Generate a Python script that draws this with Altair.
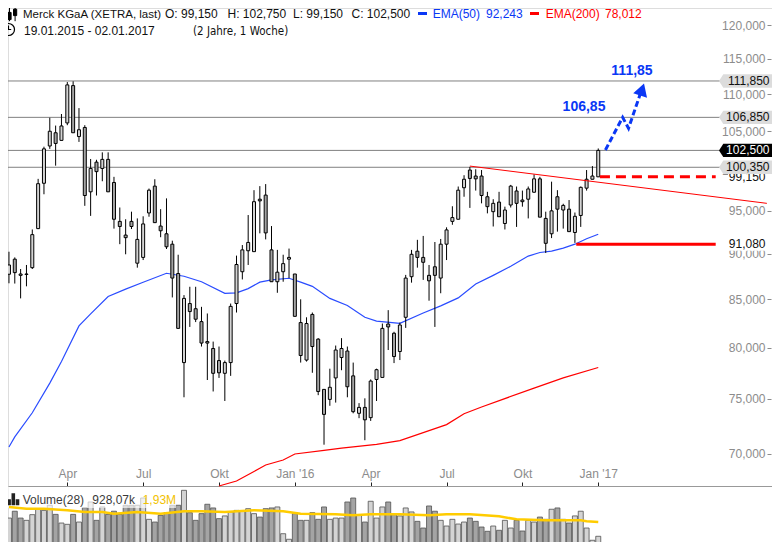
import json
import altair as alt
import pandas as pd

# ---------------- data (weekly candles, 19.01.2015 .. 26.12.2016) ----------------
opens = [87.72, 89.4, 87.75, 87.7, 88.45, 92.9, 98.35, 103.07, 104.8, 103.8,
         106.1, 111.2, 104.3, 105.5, 97.3, 101.0, 100.2, 101.35, 98.45, 93.75,
         92.15, 93.75, 88.95, 89.6, 94.75, 98.0, 93.2, 92.3, 91.1, 87.8,
         78.5, 84.55, 84.0, 82.65, 80.6, 79.9, 78.7, 77.45, 78.5, 84.55,
         88.0, 90.35, 90.25, 96.4, 96.9, 90.45, 86.9, 88.0, 89.4, 87.75,
         82.55, 78.75, 83.4, 80.85, 75.9, 74.95, 77.0, 79.0, 79.65, 77.2,
         73.65, 74.2, 73.25, 76.85, 77.05, 82.4, 81.45, 79.6, 83.1, 87.45,
         90.3, 89.6, 87.6, 88.55, 87.3, 91.1, 93.75, 94.0, 97.8, 100.0,
         99.25, 99.25, 96.7, 94.9, 96.05, 93.5, 95.7, 97.4, 96.3, 96.4,
         97.25, 98.9, 94.1, 92.3, 96.7, 95.1, 95.2, 92.45, 94.45, 97.75,
         98.85, 99.15]
highs = [90.24, 89.6, 88.3, 88.75, 92.8, 98.9, 102.98, 106.8, 105.75, 107.3,
         111.7, 111.8, 108.1, 105.8, 101.4, 101.3, 102.25, 102.25, 99.15, 95.4,
         94.0, 94.9, 94.1, 94.35, 97.7, 98.85, 95.2, 96.5, 91.5, 89.9,
         85.45, 86.35, 86.35, 84.2, 83.5, 80.6, 80.1, 78.7, 84.55, 89.8,
         91.0, 94.5, 97.5, 98.0, 98.25, 93.2, 90.45, 89.9, 90.6, 87.75,
         85.0, 83.1, 83.6, 80.95, 75.9, 77.9, 80.2, 80.95, 80.1, 78.5,
         74.6, 75.05, 76.85, 77.9, 82.45, 83.85, 81.6, 82.55, 87.65, 90.45,
         91.6, 92.05, 88.75, 91.35, 91.7, 93.05, 95.55, 97.95, 99.35, 100.4,
         100.1, 100.0, 97.3, 96.4, 97.3, 95.5, 98.15, 97.95, 97.45, 97.95,
         99.45, 99.15, 94.9, 98.55, 97.5, 95.85, 96.3, 94.8, 97.95, 100.0,
         100.5, 102.75]
lows = [86.73, 86.7, 85.1, 86.4, 88.3, 92.85, 97.0, 102.7, 100.55, 103.8,
        105.8, 104.8, 103.6, 95.6, 94.4, 96.85, 98.6, 97.3, 92.9, 91.1,
        89.95, 92.85, 88.45, 89.3, 94.3, 93.6, 91.9, 90.55, 85.2, 81.95,
        75.15, 82.1, 82.6, 80.1, 76.8, 75.7, 77.0, 74.8, 77.2, 83.6,
        87.15, 88.75, 90.25, 92.35, 91.65, 86.9, 85.7, 86.9, 87.3, 83.2,
        78.5, 78.6, 77.5, 75.35, 70.8, 74.35, 74.65, 77.75, 75.15, 73.65,
        73.2, 71.2, 72.95, 74.8, 77.05, 79.75, 78.45, 78.75, 82.0, 86.8,
        88.45, 87.1, 84.85, 82.1, 85.65, 89.3, 93.35, 94.0, 96.7, 95.35,
        97.45, 95.9, 94.7, 93.15, 94.3, 92.8, 95.4, 93.1, 95.5, 94.1,
        97.2, 94.25, 90.1, 91.8, 92.55, 92.9, 92.55, 91.25, 93.1, 97.45,
        98.85, 99.15]
closes = [88.75, 87.9, 87.6, 87.75, 92.2, 98.3, 102.7, 105.0, 103.4, 105.7,
          111.3, 104.8, 105.2, 96.85, 100.2, 99.8, 101.35, 97.3, 94.0, 93.15,
          91.85, 93.15, 91.65, 93.45, 97.5, 93.6, 92.65, 90.8, 87.3, 81.95,
          85.1, 83.7, 82.9, 80.45, 80.45, 77.45, 77.5, 78.5, 84.25, 88.8,
          90.45, 91.3, 96.1, 96.2, 92.4, 86.9, 87.95, 88.9, 89.6, 83.2,
          79.2, 82.45, 80.1, 75.7, 73.55, 76.1, 79.75, 79.9, 76.15, 73.8,
          74.2, 73.05, 76.7, 77.8, 81.95, 82.1, 79.1, 82.3, 87.3, 89.95,
          89.6, 89.05, 87.0, 87.6, 91.1, 92.75, 94.2, 97.5, 98.85, 98.95,
          98.9, 96.85, 95.5, 95.9, 94.3, 95.1, 98.0, 95.9, 96.1, 97.65,
          98.9, 94.25, 91.2, 95.0, 95.2, 95.65, 92.55, 94.35, 97.85, 98.85,
          99.25, 102.5]
volumes = [2.21, 2.69, 2.21, 2.05, 2.45, 2.87, 2.75, 3.11, 2.47, 1.86,
           1.77, 2.47, 1.93, 2.94, 3.34, 2.05, 2.99, 2.47, 2.69, 2.47,
           3.11, 3.11, 3.11, 3.62, 2.12, 1.93, 2.40, 2.59, 3.11, 3.11,
           4.16, 2.59, 2.05, 2.52, 3.18, 2.92, 2.17, 2.36, 2.64, 2.75,
           2.71, 2.87, 2.52, 2.28, 2.87, 2.92, 2.99, 1.11, 0.72, 2.52,
           2.05, 2.05, 2.59, 2.12, 2.99, 2.12, 2.21, 2.21, 3.34, 3.62,
           2.45, 1.93, 3.39, 2.21, 2.99, 3.34, 2.45, 2.36, 2.92, 2.64,
           1.98, 1.51, 3.06, 2.69, 2.05, 1.65, 2.12, 1.79, 1.93, 2.21,
           1.98, 1.58, 1.28, 1.65, 1.35, 2.05, 1.51, 2.05, 1.30, 2.05,
           1.93, 2.28, 2.12, 2.83, 2.92, 2.12, 1.86, 2.36, 2.69, 1.51,
           0.65, 0.928]

ema50_idx = [0, 1, 4, 7, 9, 12, 14, 17, 20, 23, 27, 30, 33, 37, 39, 41, 43, 45, 48, 50,
             52, 55, 58, 61, 63, 67, 71, 74, 77, 80, 83, 86, 89, 91, 93, 95, 97, 99, 101]
ema50_val = [70.6, 71.5, 73.7, 76.5, 78.6, 82.2, 83.45, 85.3, 86.1, 86.85, 87.83, 87.5, 86.9,
             85.64, 85.7, 86.15, 86.85, 87.1, 87.28, 86.85, 86.4, 85.1, 84.35, 83.1, 82.7,
             82.47, 83.55, 84.3, 85.15, 86.65, 87.6, 88.6, 89.75, 90.15, 90.3, 90.65, 91.1,
             91.72, 92.243]
ema200_idx = [36, 39, 42, 44, 47, 49, 54, 57, 61, 63, 67, 71, 75, 78, 81, 90, 95, 101]
ema200_val = [67.22, 67.64, 68.46, 69.02, 69.45, 69.98, 70.29, 70.49, 70.71, 70.83, 71.17,
              71.88, 72.61, 73.61, 74.24, 76.02, 77.0, 78.012]
volma_idx = [0, 3, 6, 10, 13, 16, 18, 22, 26, 30, 33, 37, 42, 47, 50, 56, 59, 62, 67, 72,
             75, 79, 84, 87, 92, 96, 98, 99, 101]
volma_val = [2.99, 2.87, 2.87, 2.76, 2.64, 2.64, 2.52, 2.64, 2.52, 2.69, 2.69, 2.64, 2.76,
             2.69, 2.52, 2.47, 2.40, 2.47, 2.47, 2.40, 2.47, 2.47, 2.33, 2.12, 2.05, 2.05,
             2.05, 1.98, 1.93]

tick_idx = [10, 23, 36, 49, 62, 75, 88, 101]
tick_labels = ["Apr", "Jul", "Okt", "Jan '16", "Apr", "Jul", "Okt", "Jan '17"]
price_ticks = [70, 75, 80, 85, 90, 95, 100, 105, 110, 115, 120]

level_values = [111.85, 106.85, 102.5, 100.35]
boxed_values = [111.85, 106.85, 100.35]
boxed_texts = ["111,850", "106,850", "100,350"]
current_value = [102.5]
current_text = ["102,500"]
plain_values = [99.15, 91.08]
plain_texts = ["99,150", "91,080"]

trend_idx = [79.0, 129.9]
trend_val = [100.5, 95.9]
stop_idx = [101.29, 121.13]
stop_val = [99.15, 99.15]
support_idx = [97.23, 121.13]
support_val = [91.08, 91.08]
proj_idx = [102.23, 105.18, 106.19, 108.27]
proj_val = [102.56, 106.85, 105.39, 110.2]
arrow_idx = [108.51]
arrow_val = [110.66]

# ---------------- frames ----------------
candles = pd.DataFrame({"i": list(range(len(opens))), "open": opens, "high": highs,
                        "low": lows, "close": closes, "vol": volumes})
candles["dir"] = ["up" if c >= o else "down" for o, c in zip(opens, closes)]

FONT = "Liberation Sans, Arial, sans-serif"
NARROW = "Liberation Sans Narrow, DejaVu Sans Condensed, Liberation Sans, sans-serif"
BLUE = "#0a37f5"
EMA_BLUE = "#2a4cff"
RED = "#ff0000"
INK = "#111111"
GRAY = "#8c8c8c"

# the page has an 8px margin: the drawing is laid out in page pixels shifted by 8
OFF = 8
W, H = 764, 534


def px(v):
    return v - OFF


xs = alt.Scale(domain=[0.6935, 129.922], nice=False, zero=False)
ys = alt.Scale(type="log", domain=[62.648, 122.597], nice=False)
vs = alt.Scale(domain=[0.527, 38.07], nice=False, zero=False)

label_expr = " : ".join(f"datum.value == {v} ? {json.dumps(t)}" for v, t in zip(tick_idx, tick_labels)) + " : ''"

x_axis = alt.Axis(orient="top", offset=-px(486), values=tick_idx, labelExpr=label_expr,
                  tickSize=4, tickColor="#222222", domainColor="#999999", labelColor=GRAY,
                  labelFont=FONT, labelFontSize=12, labelPadding=1.5, grid=False, title=None,
                  labelFlush=False, labelOverlap=False)
y_axis = alt.Axis(orient="left", offset=-px(771), values=price_ticks,
                  labelExpr="replace(format(datum.value, '.3f'), '.', ',')",
                  tickSize=4, tickColor=GRAY, labelColor=GRAY, labelFont=FONT,
                  labelFontSize=12, labelPadding=2, domain=False, grid=False, title=None,
                  labelOverlap=False, labelFlush=False)


def X(field):
    return alt.X(field, type="quantitative", scale=xs, axis=x_axis)


def Y(field):
    return alt.Y(field, type="quantitative", scale=ys, axis=y_axis)


def ptext(txt, x, y, color=INK, size=12, weight="normal", align="left", baseline="alphabetic", font=FONT):
    return alt.Chart(pd.DataFrame({"t": [txt]})).mark_text(
        font=font, fontSize=size, fontWeight=weight, color=color, align=align, baseline=baseline
    ).encode(x=alt.value(px(x)), y=alt.value(px(y)), text="t:N")


def prule(x1, x2, y, color, width):
    return alt.Chart(pd.DataFrame({"a": [0]})).mark_rule(color=color, strokeWidth=width).encode(
        x=alt.value(px(x1)), x2=alt.value(px(x2)), y=alt.value(px(y)))


def xy_frame(idx, val):
    return pd.DataFrame({"i": idx, "p": val})


# ---------------- price layers ----------------
levels = alt.Chart(pd.DataFrame({"p": level_values})).mark_rule(color="#808080", strokeWidth=1).encode(
    y=Y("p"), x=alt.value(px(0)), x2=alt.value(px(720)))

ema200 = alt.Chart(xy_frame(ema200_idx, ema200_val)).mark_line(color=RED, strokeWidth=1.2).encode(
    x=X("i"), y=Y("p"))
ema50 = alt.Chart(xy_frame(ema50_idx, ema50_val)).mark_line(color=EMA_BLUE, strokeWidth=1.2).encode(
    x=X("i"), y=Y("p"))

wicks = alt.Chart(candles).mark_rule(color="black", strokeWidth=1).encode(
    x=X("i"), y=Y("low"), y2="high")
bodies = alt.Chart(candles).mark_bar(size=3, stroke="black", strokeWidth=1).encode(
    x=X("i"), y=Y("open"), y2="close",
    fill=alt.Fill("dir:N", scale=alt.Scale(domain=["up", "down"], range=["white", "black"]), legend=None))

trend = alt.Chart(xy_frame(trend_idx, trend_val)).mark_line(color=RED, strokeWidth=1).encode(
    x=X("i"), y=Y("p"))
stop = alt.Chart(xy_frame(stop_idx, stop_val)).mark_line(color=RED, strokeWidth=3, strokeDash=[10, 6]).encode(
    x=X("i"), y=Y("p"))
support = alt.Chart(xy_frame(support_idx, support_val)).mark_line(color=RED, strokeWidth=3).encode(
    x=X("i"), y=Y("p"))

proj = alt.Chart(xy_frame(proj_idx, proj_val)).mark_line(color=BLUE, strokeWidth=3, strokeDash=[6, 3]).encode(
    x=X("i"), y=Y("p"))
arrow = alt.Chart(xy_frame(arrow_idx, arrow_val)).mark_point(
    shape="triangle-up", angle=18, size=210, filled=True, color=BLUE, opacity=1).encode(x=X("i"), y=Y("p"))

BOX = "M-1,0L-0.838,-0.253L1,-0.253L1,0.253L-0.838,0.253Z"
WBOX = "M-1,-0.325L1,-0.325L1,0.325L-1,0.325Z"

plain_df = pd.DataFrame({"p": plain_values, "t": plain_texts})
plain_bg = alt.Chart(plain_df).mark_point(shape=WBOX, size=1600, filled=True, color="white", opacity=1).encode(
    x=alt.value(px(748)), y=Y("p"))
plain_tx = alt.Chart(plain_df).mark_text(font=FONT, fontSize=12, color=INK, align="right", baseline="middle").encode(
    x=alt.value(px(765.5)), y=Y("p"), text="t:N")

boxed_df = pd.DataFrame({"p": boxed_values, "t": boxed_texts})
boxed_bg = alt.Chart(boxed_df).mark_point(shape=BOX, size=2809, filled=True, color="#dcdcdc", opacity=1).encode(
    x=alt.value(px(745.5)), y=Y("p"))
boxed_tx = alt.Chart(boxed_df).mark_text(font=FONT, fontSize=12, color=INK, align="right", baseline="middle").encode(
    x=alt.value(px(769.5)), y=Y("p"), text="t:N")

cur_df = pd.DataFrame({"p": current_value, "t": current_text})
cur_bg = alt.Chart(cur_df).mark_point(shape=BOX, size=2809, filled=True, color="black", opacity=1).encode(
    x=alt.value(px(745.5)), y=Y("p"))
cur_tx = alt.Chart(cur_df).mark_text(font=FONT, fontSize=12, color="white", align="right", baseline="middle").encode(
    x=alt.value(px(769.5)), y=Y("p"), text="t:N")

# header
ICON = ("M-0.7,-0.9V0.9M0,-0.9V0.9M0.7,-0.9V0.9"
        "M-0.9,-0.4H-0.5V0.5H-0.9ZM-0.2,-0.2H0.2V0.7H-0.2ZM0.5,-0.6H0.9V0.2H0.5Z")
icon = alt.Chart(pd.DataFrame({"a": [0]})).mark_point(
    shape=ICON, size=256, filled=True, fill="black", stroke="black", strokeWidth=1, opacity=1).encode(
    x=alt.value(px(9.5)), y=alt.value(px(14)))
clock = alt.Chart(pd.DataFrame({"a": [0]})).mark_point(
    shape="circle", size=144, filled=False, color="black", strokeWidth=1.2, opacity=1).encode(
    x=alt.value(px(8.5)), y=alt.value(px(29.5)))
hands = alt.Chart(pd.DataFrame({"a": [0]})).mark_point(
    shape="M0,-0.65V0H0.45", size=144, filled=False, color="black", strokeWidth=1.2, opacity=1).encode(
    x=alt.value(px(8.5)), y=alt.value(px(29.5)))

header = [
    ptext("Merck KGaA (XETRA, last)", 23, 18, size=11.5),
    ptext("O: 99,150", 165, 18),
    ptext("H: 102,750", 227.5, 18),
    ptext("L: 99,150", 293, 18),
    ptext("C: 102,500", 351.5, 18),
    prule(418, 427, 13.5, BLUE, 3),
    ptext("EMA(50)", 432.7, 18, color=BLUE),
    ptext("92,243", 486, 18, color=BLUE),
    prule(530, 539, 13.5, RED, 3),
    ptext("EMA(200)", 545.7, 18, color=RED),
    ptext("78,012", 605, 18, color=RED),
    ptext("19.01.2015 - 02.01.2017", 24, 34.5),
    ptext("(2 Jahre, 1 Woche)", 193, 34.5, size=11.5, font=NARROW),
]

annot = [
    ptext("106,85", 584, 107, color=BLUE, size=14, weight="bold", align="center", baseline="middle"),
    ptext("111,85", 632, 71, color=BLUE, size=14, weight="bold", align="center", baseline="middle"),
]

price = alt.layer(
    levels, ema200, ema50, wicks, bodies, trend, stop, support, proj, arrow, *annot,
    plain_bg, plain_tx, boxed_bg, boxed_tx, cur_bg, cur_tx, icon, clock, hands, *header
)

# ---------------- volume layers ----------------
vol_bars = alt.Chart(candles).mark_bar(size=5, stroke="#505050", strokeWidth=0.8).encode(
    x=X("i"), y=alt.Y("vol:Q", scale=vs, axis=None), y2=alt.datum(0),
    fill=alt.Fill("dir:N", scale=alt.Scale(domain=["up", "down"], range=["#d4d4d4", "#a4a4a4"]), legend=None))
vol_ma = alt.Chart(xy_frame(volma_idx, volma_val)).mark_line(color="#ffcc00", strokeWidth=2.5).encode(
    x=X("i"), y=alt.Y("p:Q", scale=vs, axis=None))

# translucent backdrop of the volume legend
vol_label_bg = alt.Chart(pd.DataFrame({"a": [0]})).mark_rect(color="white", opacity=0.65).encode(
    x=alt.value(px(0)), x2=alt.value(px(176)), y=alt.value(px(487)), y2=alt.value(px(508)))

VICON = "M-1,0H-0.4V1H-1ZM-0.3,-1H0.3V1H-0.3ZM0.4,0H1V1H0.4Z"
vicon = alt.Chart(pd.DataFrame({"a": [0]})).mark_point(
    shape=VICON, size=144, filled=True, color="#222222", opacity=1).encode(
    x=alt.value(px(13.3)), y=alt.value(px(499.3)))

volume = alt.layer(
    vol_bars, vol_label_bg, vol_ma, vicon,
    ptext("Volume(28)", 22.7, 503.5, color="#3a3a3a"),
    ptext("928,07k", 92.3, 503.5, color="#3a3a3a"),
    ptext("1,93M", 142.7, 503.5, color="#f2c200"),
)

chart = alt.layer(volume, price).resolve_scale(y="independent").properties(
    width=W, height=H, padding=0, autosize=alt.AutoSizeParams(type="none")
).configure_view(strokeWidth=0).configure(background="white")

chart.save("out.html", embed_options={"renderer": "svg", "actions": False})
